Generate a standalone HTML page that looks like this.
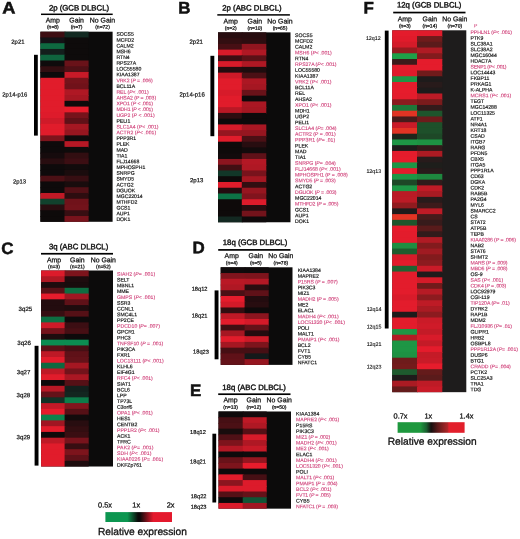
<!DOCTYPE html>
<html lang="en">
<head>
<meta charset="utf-8">
<title>Relative expression heatmaps</title>
<style>html,body{margin:0;padding:0;background:#fff;}svg{display:block;}text{white-space:pre;}</style>
</head>
<body>
<svg width="520" height="539" viewBox="0 0 520 539" font-family="'Liberation Sans', Arial, Helvetica, sans-serif" fill="#111" text-rendering="geometricPrecision">
<defs><linearGradient id="g1" x1="0" x2="1" y1="0" y2="0"><stop offset="0" stop-color="#0c9650"/><stop offset="0.33" stop-color="#0c9650"/><stop offset="0.49" stop-color="#0c0a0a"/><stop offset="0.52" stop-color="#0c0a0a"/><stop offset="0.72" stop-color="#e4192d"/><stop offset="1" stop-color="#e4192d"/></linearGradient><linearGradient id="g2" x1="0" x2="1" y1="0" y2="0"><stop offset="0" stop-color="#1e983e"/><stop offset="0.34" stop-color="#1e983e"/><stop offset="0.43" stop-color="#1a6030"/><stop offset="0.50" stop-color="#160f0f"/><stop offset="0.60" stop-color="#5c1a1a"/><stop offset="0.75" stop-color="#b02628"/><stop offset="0.765" stop-color="#e21f2b"/><stop offset="1" stop-color="#e21f2b"/></linearGradient></defs>
<rect x="0" y="0" width="520" height="539" fill="#fff"/>
<rect x="40.40" y="31.70" width="72.20" height="190.08" fill="#0c0b0b"/>
<rect x="40.40" y="31.70" width="25.10" height="6.76" fill="#3e0e13"/>
<rect x="64.50" y="31.70" width="24.10" height="6.76" fill="#132a22"/>
<rect x="40.40" y="37.46" width="25.10" height="6.76" fill="#141216"/>
<rect x="64.50" y="37.46" width="24.10" height="6.76" fill="#0e0b0b"/>
<rect x="40.40" y="43.22" width="25.10" height="6.76" fill="#0e6940"/>
<rect x="64.50" y="43.22" width="24.10" height="6.76" fill="#0e0b0b"/>
<rect x="40.40" y="48.98" width="25.10" height="6.76" fill="#131e1c"/>
<rect x="64.50" y="48.98" width="24.10" height="6.76" fill="#0e0b0b"/>
<rect x="40.40" y="54.74" width="25.10" height="6.76" fill="#0f643e"/>
<rect x="64.50" y="54.74" width="24.10" height="6.76" fill="#0e0b0b"/>
<rect x="40.40" y="60.50" width="25.10" height="6.76" fill="#0f0b0c"/>
<rect x="64.50" y="60.50" width="24.10" height="6.76" fill="#691219"/>
<rect x="40.40" y="66.26" width="25.10" height="6.76" fill="#320e11"/>
<rect x="64.50" y="66.26" width="24.10" height="6.76" fill="#501016"/>
<rect x="40.40" y="72.02" width="25.10" height="6.76" fill="#0e0a0b"/>
<rect x="64.50" y="72.02" width="24.10" height="6.76" fill="#c81a28"/>
<rect x="40.40" y="77.78" width="25.10" height="6.76" fill="#e11c2b"/>
<rect x="64.50" y="77.78" width="24.10" height="6.76" fill="#76131b"/>
<rect x="40.40" y="83.54" width="25.10" height="6.76" fill="#e11c2b"/>
<rect x="64.50" y="83.54" width="24.10" height="6.76" fill="#70121a"/>
<rect x="40.40" y="89.30" width="25.10" height="6.76" fill="#e11c2b"/>
<rect x="64.50" y="89.30" width="24.10" height="6.76" fill="#af1824"/>
<rect x="40.40" y="95.06" width="25.10" height="6.76" fill="#e11c2b"/>
<rect x="64.50" y="95.06" width="24.10" height="6.76" fill="#a51722"/>
<rect x="40.40" y="100.82" width="25.10" height="6.76" fill="#e11c2b"/>
<rect x="64.50" y="100.82" width="24.10" height="6.76" fill="#0e0b0b"/>
<rect x="40.40" y="106.58" width="25.10" height="6.76" fill="#e11c2b"/>
<rect x="64.50" y="106.58" width="24.10" height="6.76" fill="#e81c2c"/>
<rect x="40.40" y="112.34" width="25.10" height="6.76" fill="#de1b2b"/>
<rect x="64.50" y="112.34" width="24.10" height="6.76" fill="#76131b"/>
<rect x="40.40" y="118.10" width="25.10" height="6.76" fill="#cf1a29"/>
<rect x="64.50" y="118.10" width="24.10" height="6.76" fill="#5f1118"/>
<rect x="40.40" y="123.86" width="25.10" height="6.76" fill="#e11c2b"/>
<rect x="64.50" y="123.86" width="24.10" height="6.76" fill="#a51722"/>
<rect x="40.40" y="129.62" width="25.10" height="6.76" fill="#e11c2b"/>
<rect x="64.50" y="129.62" width="24.10" height="6.76" fill="#961620"/>
<rect x="40.40" y="135.38" width="25.10" height="6.76" fill="#7d141c"/>
<rect x="64.50" y="135.38" width="24.10" height="6.76" fill="#0f0b0c"/>
<rect x="40.40" y="141.14" width="25.10" height="6.76" fill="#0e0a0b"/>
<rect x="64.50" y="141.14" width="24.10" height="6.76" fill="#b61825"/>
<rect x="40.40" y="146.90" width="25.10" height="6.76" fill="#0e0a0b"/>
<rect x="64.50" y="146.90" width="24.10" height="6.76" fill="#0e0b0b"/>
<rect x="40.40" y="152.66" width="25.10" height="6.76" fill="#160b0d"/>
<rect x="64.50" y="152.66" width="24.10" height="6.76" fill="#320e11"/>
<rect x="40.40" y="158.42" width="25.10" height="6.76" fill="#280d10"/>
<rect x="64.50" y="158.42" width="24.10" height="6.76" fill="#3c0e13"/>
<rect x="40.40" y="164.18" width="25.10" height="6.76" fill="#0e0a0b"/>
<rect x="64.50" y="164.18" width="24.10" height="6.76" fill="#120b0c"/>
<rect x="40.40" y="169.94" width="25.10" height="6.76" fill="#0e0a0b"/>
<rect x="64.50" y="169.94" width="24.10" height="6.76" fill="#1a0c0d"/>
<rect x="40.40" y="175.70" width="25.10" height="6.76" fill="#4b1015"/>
<rect x="64.50" y="175.70" width="24.10" height="6.76" fill="#370e12"/>
<rect x="40.40" y="181.46" width="25.10" height="6.76" fill="#0e0a0b"/>
<rect x="64.50" y="181.46" width="24.10" height="6.76" fill="#190c0d"/>
<rect x="40.40" y="187.22" width="25.10" height="6.76" fill="#0e0a0b"/>
<rect x="64.50" y="187.22" width="24.10" height="6.76" fill="#521016"/>
<rect x="40.40" y="192.98" width="25.10" height="6.76" fill="#c01926"/>
<rect x="64.50" y="192.98" width="24.10" height="6.76" fill="#2d0d10"/>
<rect x="40.40" y="198.74" width="25.10" height="6.76" fill="#11412d"/>
<rect x="64.50" y="198.74" width="24.10" height="6.76" fill="#70121a"/>
<rect x="40.40" y="204.50" width="25.10" height="6.76" fill="#280d10"/>
<rect x="64.50" y="204.50" width="24.10" height="6.76" fill="#73131b"/>
<rect x="40.40" y="210.26" width="25.10" height="6.76" fill="#0e0a0a"/>
<rect x="64.50" y="210.26" width="24.10" height="6.76" fill="#370e12"/>
<rect x="40.40" y="216.02" width="25.10" height="5.76" fill="#0e0a0a"/>
<rect x="64.50" y="216.02" width="24.10" height="5.76" fill="#78131c"/>
<text x="116.40" y="35.84" font-size="5.15" stroke="#111" stroke-width="0.16" transform="rotate(0.03 116.40 35.84)">SOCS5</text>
<text x="116.40" y="41.63" font-size="5.15" stroke="#111" stroke-width="0.16" transform="rotate(0.03 116.40 41.63)">MCFD2</text>
<text x="116.40" y="47.42" font-size="5.15" stroke="#111" stroke-width="0.16" transform="rotate(0.03 116.40 47.42)">CALM2</text>
<text x="116.40" y="53.21" font-size="5.15" stroke="#111" stroke-width="0.16" transform="rotate(0.03 116.40 53.21)">MSH6</text>
<text x="116.40" y="59.00" font-size="5.15" stroke="#111" stroke-width="0.16" transform="rotate(0.03 116.40 59.00)">RTN4</text>
<text x="116.40" y="64.79" font-size="5.15" stroke="#111" stroke-width="0.16" transform="rotate(0.03 116.40 64.79)">RPS27A</text>
<text x="116.40" y="70.58" font-size="5.15" stroke="#111" stroke-width="0.16" transform="rotate(0.03 116.40 70.58)">LOC55580</text>
<text x="116.40" y="76.37" font-size="5.15" stroke="#111" stroke-width="0.16" transform="rotate(0.03 116.40 76.37)">KIAA1387</text>
<text x="116.40" y="82.16" font-size="5.15" textLength="36.30" lengthAdjust="spacing" fill="#d0427a" stroke="#d0427a" stroke-width="0.12" transform="rotate(0.03 116.40 82.16)">VRK2 (<tspan font-style="italic">P</tspan> = .006)</text>
<text x="116.40" y="87.95" font-size="5.15" stroke="#111" stroke-width="0.16" transform="rotate(0.03 116.40 87.95)">BCL11A</text>
<text x="116.40" y="93.74" font-size="5.15" textLength="32.20" lengthAdjust="spacing" fill="#d0427a" stroke="#d0427a" stroke-width="0.12" transform="rotate(0.03 116.40 93.74)">REL (<tspan font-style="italic">P</tspan>&lt; .001)</text>
<text x="116.40" y="99.53" font-size="5.15" textLength="39.70" lengthAdjust="spacing" fill="#d0427a" stroke="#d0427a" stroke-width="0.12" transform="rotate(0.03 116.40 99.53)">AHSA2 (<tspan font-style="italic">P</tspan> = .003)</text>
<text x="116.40" y="105.32" font-size="5.15" textLength="36.60" lengthAdjust="spacing" fill="#d0427a" stroke="#d0427a" stroke-width="0.12" transform="rotate(0.03 116.40 105.32)">XPO1 (<tspan font-style="italic">P</tspan> &lt; .001)</text>
<text x="116.40" y="111.11" font-size="5.15" textLength="36.60" lengthAdjust="spacing" fill="#d0427a" stroke="#d0427a" stroke-width="0.12" transform="rotate(0.03 116.40 111.11)">MDH1 (<tspan font-style="italic">P</tspan> &lt; .001)</text>
<text x="116.40" y="116.90" font-size="5.15" textLength="38.20" lengthAdjust="spacing" fill="#d0427a" stroke="#d0427a" stroke-width="0.12" transform="rotate(0.03 116.40 116.90)">UGP2 (<tspan font-style="italic">P</tspan> &lt; .001)</text>
<text x="116.40" y="122.69" font-size="5.15" stroke="#111" stroke-width="0.16" transform="rotate(0.03 116.40 122.69)">PELI1</text>
<text x="116.40" y="128.48" font-size="5.15" textLength="42.10" lengthAdjust="spacing" fill="#d0427a" stroke="#d0427a" stroke-width="0.12" transform="rotate(0.03 116.40 128.48)">SLC1A4 (<tspan font-style="italic">P</tspan>&lt; .001)</text>
<text x="116.40" y="134.27" font-size="5.15" textLength="39.70" lengthAdjust="spacing" fill="#d0427a" stroke="#d0427a" stroke-width="0.12" transform="rotate(0.03 116.40 134.27)">ACTR2 (<tspan font-style="italic">P</tspan>&lt; .001)</text>
<text x="116.40" y="140.06" font-size="5.15" stroke="#111" stroke-width="0.16" transform="rotate(0.03 116.40 140.06)">PPP3R1</text>
<text x="116.40" y="145.85" font-size="5.15" stroke="#111" stroke-width="0.16" transform="rotate(0.03 116.40 145.85)">PLEK</text>
<text x="116.40" y="151.64" font-size="5.15" stroke="#111" stroke-width="0.16" transform="rotate(0.03 116.40 151.64)">MAD</text>
<text x="116.40" y="157.43" font-size="5.15" stroke="#111" stroke-width="0.16" transform="rotate(0.03 116.40 157.43)">TIA1</text>
<text x="116.40" y="163.22" font-size="5.15" stroke="#111" stroke-width="0.16" transform="rotate(0.03 116.40 163.22)">FLJ14668</text>
<text x="116.40" y="169.01" font-size="5.15" stroke="#111" stroke-width="0.16" transform="rotate(0.03 116.40 169.01)">MPHOSPH1</text>
<text x="116.40" y="174.80" font-size="5.15" stroke="#111" stroke-width="0.16" transform="rotate(0.03 116.40 174.80)">SNRPG</text>
<text x="116.40" y="180.59" font-size="5.15" stroke="#111" stroke-width="0.16" transform="rotate(0.03 116.40 180.59)">SMYD5</text>
<text x="116.40" y="186.38" font-size="5.15" stroke="#111" stroke-width="0.16" transform="rotate(0.03 116.40 186.38)">ACTG2</text>
<text x="116.40" y="192.17" font-size="5.15" stroke="#111" stroke-width="0.16" transform="rotate(0.03 116.40 192.17)">DGUOK</text>
<text x="116.40" y="197.96" font-size="5.15" stroke="#111" stroke-width="0.16" transform="rotate(0.03 116.40 197.96)">MGC22014</text>
<text x="116.40" y="203.75" font-size="5.15" stroke="#111" stroke-width="0.16" transform="rotate(0.03 116.40 203.75)">MTHFD2</text>
<text x="116.40" y="209.54" font-size="5.15" stroke="#111" stroke-width="0.16" transform="rotate(0.03 116.40 209.54)">GCS1</text>
<text x="116.40" y="215.33" font-size="5.15" stroke="#111" stroke-width="0.16" transform="rotate(0.03 116.40 215.33)">AUP1</text>
<text x="116.40" y="221.12" font-size="5.15" stroke="#111" stroke-width="0.16" transform="rotate(0.03 116.40 221.12)">DOK1</text>
<text x="79.00" y="10.50" font-size="7.80" text-anchor="middle" stroke="#111" stroke-width="0.4" transform="rotate(0.03 79.00 10.50)">2p (GCB DLBCL)</text>
<rect x="41.00" y="13.55" width="71.70" height="1.50" fill="#000"/>
<text x="52.85" y="22.50" font-size="6.90" text-anchor="middle" stroke="#111" stroke-width="0.25" transform="rotate(0.03 52.85 22.50)">Amp</text>
<text x="52.85" y="28.60" font-size="5.00" text-anchor="middle" stroke="#111" stroke-width="0.25" transform="rotate(0.03 52.85 28.60)">(n=8)</text>
<text x="76.60" y="22.50" font-size="6.90" text-anchor="middle" stroke="#111" stroke-width="0.25" transform="rotate(0.03 76.60 22.50)">Gain</text>
<text x="76.60" y="28.60" font-size="5.00" text-anchor="middle" stroke="#111" stroke-width="0.25" transform="rotate(0.03 76.60 28.60)">(n=7)</text>
<text x="102.50" y="22.50" font-size="6.90" text-anchor="middle" stroke="#111" stroke-width="0.25" transform="rotate(0.03 102.50 22.50)">No Gain</text>
<text x="102.50" y="28.60" font-size="5.00" text-anchor="middle" stroke="#111" stroke-width="0.25" transform="rotate(0.03 102.50 28.60)">(n=72)</text>
<rect x="34.00" y="54.80" width="3.80" height="80.80" fill="#000"/>
<text x="17.90" y="43.81" font-size="5.90" text-anchor="middle" stroke="#111" stroke-width="0.2" transform="rotate(0.03 17.90 43.81)">2p21</text>
<text x="14.80" y="96.41" font-size="5.90" text-anchor="middle" stroke="#111" stroke-width="0.2" transform="rotate(0.03 14.80 96.41)">2p14-p16</text>
<text x="19.50" y="183.51" font-size="5.90" text-anchor="middle" stroke="#111" stroke-width="0.2" transform="rotate(0.03 19.50 183.51)">2p13</text>
<text font-size="16.60" font-weight="bold" stroke="#111" stroke-width="0.5" transform="translate(2.30 13.50) rotate(0.03) scale(1.10 1)">A</text>
<rect x="218.00" y="32.35" width="72.50" height="189.91" fill="#0c0b0b"/>
<rect x="218.00" y="32.35" width="24.80" height="6.75" fill="#280d10"/>
<rect x="241.80" y="32.35" width="24.50" height="6.75" fill="#280d10"/>
<rect x="218.00" y="38.11" width="24.80" height="6.75" fill="#320e11"/>
<rect x="241.80" y="38.11" width="24.50" height="6.75" fill="#2d0d10"/>
<rect x="218.00" y="43.86" width="24.80" height="6.75" fill="#460f14"/>
<rect x="241.80" y="43.86" width="24.50" height="6.75" fill="#91151f"/>
<rect x="218.00" y="49.62" width="24.80" height="6.75" fill="#d71b2a"/>
<rect x="241.80" y="49.62" width="24.50" height="6.75" fill="#af1824"/>
<rect x="218.00" y="55.37" width="24.80" height="6.75" fill="#3c0e13"/>
<rect x="241.80" y="55.37" width="24.50" height="6.75" fill="#5a1117"/>
<rect x="218.00" y="61.12" width="24.80" height="6.75" fill="#d71b2a"/>
<rect x="241.80" y="61.12" width="24.50" height="6.75" fill="#af1824"/>
<rect x="218.00" y="66.88" width="24.80" height="6.75" fill="#230c0f"/>
<rect x="241.80" y="66.88" width="24.50" height="6.75" fill="#1e0c0e"/>
<rect x="218.00" y="72.63" width="24.80" height="6.75" fill="#cd1a28"/>
<rect x="241.80" y="72.63" width="24.50" height="6.75" fill="#4b1015"/>
<rect x="218.00" y="78.39" width="24.80" height="6.75" fill="#e11c2b"/>
<rect x="241.80" y="78.39" width="24.50" height="6.75" fill="#ac1723"/>
<rect x="218.00" y="84.15" width="24.80" height="6.75" fill="#e11c2b"/>
<rect x="241.80" y="84.15" width="24.50" height="6.75" fill="#a51722"/>
<rect x="218.00" y="89.90" width="24.80" height="6.75" fill="#d71b2a"/>
<rect x="241.80" y="89.90" width="24.50" height="6.75" fill="#691219"/>
<rect x="218.00" y="95.66" width="24.80" height="6.75" fill="#e11c2b"/>
<rect x="241.80" y="95.66" width="24.50" height="6.75" fill="#0e0a0b"/>
<rect x="218.00" y="101.41" width="24.80" height="6.75" fill="#e11c2b"/>
<rect x="241.80" y="101.41" width="24.50" height="6.75" fill="#aa1723"/>
<rect x="218.00" y="107.16" width="24.80" height="6.75" fill="#b91825"/>
<rect x="241.80" y="107.16" width="24.50" height="6.75" fill="#a51722"/>
<rect x="218.00" y="112.92" width="24.80" height="6.75" fill="#2d0d10"/>
<rect x="241.80" y="112.92" width="24.50" height="6.75" fill="#0e0a0b"/>
<rect x="218.00" y="118.68" width="24.80" height="6.75" fill="#0e0a0b"/>
<rect x="241.80" y="118.68" width="24.50" height="6.75" fill="#0e0a0b"/>
<rect x="218.00" y="124.43" width="24.80" height="6.75" fill="#d71b2a"/>
<rect x="241.80" y="124.43" width="24.50" height="6.75" fill="#aa1723"/>
<rect x="218.00" y="130.19" width="24.80" height="6.75" fill="#961620"/>
<rect x="241.80" y="130.19" width="24.50" height="6.75" fill="#961620"/>
<rect x="218.00" y="135.94" width="24.80" height="6.75" fill="#e11c2b"/>
<rect x="241.80" y="135.94" width="24.50" height="6.75" fill="#4b1015"/>
<rect x="218.00" y="141.69" width="24.80" height="6.75" fill="#0e0a0a"/>
<rect x="241.80" y="141.69" width="24.50" height="6.75" fill="#280d10"/>
<rect x="218.00" y="147.45" width="24.80" height="6.75" fill="#0e0a0a"/>
<rect x="241.80" y="147.45" width="24.50" height="6.75" fill="#120b0c"/>
<rect x="218.00" y="153.21" width="24.80" height="6.75" fill="#120b0c"/>
<rect x="241.80" y="153.21" width="24.50" height="6.75" fill="#5f1118"/>
<rect x="218.00" y="158.96" width="24.80" height="6.75" fill="#8c151f"/>
<rect x="241.80" y="158.96" width="24.50" height="6.75" fill="#b41825"/>
<rect x="218.00" y="164.72" width="24.80" height="6.75" fill="#410f13"/>
<rect x="241.80" y="164.72" width="24.50" height="6.75" fill="#af1824"/>
<rect x="218.00" y="170.47" width="24.80" height="6.75" fill="#123728"/>
<rect x="241.80" y="170.47" width="24.50" height="6.75" fill="#78131c"/>
<rect x="218.00" y="176.22" width="24.80" height="6.75" fill="#0e0a0a"/>
<rect x="241.80" y="176.22" width="24.50" height="6.75" fill="#a51722"/>
<rect x="218.00" y="181.98" width="24.80" height="6.75" fill="#e11c2b"/>
<rect x="241.80" y="181.98" width="24.50" height="6.75" fill="#320e11"/>
<rect x="218.00" y="187.73" width="24.80" height="6.75" fill="#230c0f"/>
<rect x="241.80" y="187.73" width="24.50" height="6.75" fill="#961620"/>
<rect x="218.00" y="193.49" width="24.80" height="6.75" fill="#0d7345"/>
<rect x="241.80" y="193.49" width="24.50" height="6.75" fill="#80141d"/>
<rect x="218.00" y="199.25" width="24.80" height="6.75" fill="#0e0a0a"/>
<rect x="241.80" y="199.25" width="24.50" height="6.75" fill="#de1b2b"/>
<rect x="218.00" y="205.00" width="24.80" height="6.75" fill="#0e0a0a"/>
<rect x="241.80" y="205.00" width="24.50" height="6.75" fill="#280d10"/>
<rect x="218.00" y="210.75" width="24.80" height="6.75" fill="#0e0a0a"/>
<rect x="241.80" y="210.75" width="24.50" height="6.75" fill="#73131b"/>
<rect x="218.00" y="216.51" width="24.80" height="5.75" fill="#132821"/>
<rect x="241.80" y="216.51" width="24.50" height="5.75" fill="#0e0a0b"/>
<text x="295.10" y="36.94" font-size="5.15" stroke="#111" stroke-width="0.16" transform="rotate(0.03 295.10 36.94)">SOCS5</text>
<text x="295.10" y="42.76" font-size="5.15" stroke="#111" stroke-width="0.16" transform="rotate(0.03 295.10 42.76)">MCFD2</text>
<text x="295.10" y="48.57" font-size="5.15" stroke="#111" stroke-width="0.16" transform="rotate(0.03 295.10 48.57)">CALM2</text>
<text x="295.10" y="54.39" font-size="5.15" textLength="36.70" lengthAdjust="spacing" fill="#d0427a" stroke="#d0427a" stroke-width="0.12" transform="rotate(0.03 295.10 54.39)">MSH6 (<tspan font-style="italic">P</tspan>&lt; .001)</text>
<text x="295.10" y="60.20" font-size="5.15" stroke="#111" stroke-width="0.16" transform="rotate(0.03 295.10 60.20)">RTN4</text>
<text x="295.10" y="66.02" font-size="5.15" textLength="41.40" lengthAdjust="spacing" fill="#d0427a" stroke="#d0427a" stroke-width="0.12" transform="rotate(0.03 295.10 66.02)">RPS27A (<tspan font-style="italic">P</tspan>&lt; .001)</text>
<text x="295.10" y="71.83" font-size="5.15" stroke="#111" stroke-width="0.16" transform="rotate(0.03 295.10 71.83)">LOC55580</text>
<text x="295.10" y="77.65" font-size="5.15" stroke="#111" stroke-width="0.16" transform="rotate(0.03 295.10 77.65)">KIAA1387</text>
<text x="295.10" y="83.46" font-size="5.15" textLength="36.40" lengthAdjust="spacing" fill="#d0427a" stroke="#d0427a" stroke-width="0.12" transform="rotate(0.03 295.10 83.46)">VRK2 (<tspan font-style="italic">P</tspan>&lt; .001)</text>
<text x="295.10" y="89.28" font-size="5.15" stroke="#111" stroke-width="0.16" transform="rotate(0.03 295.10 89.28)">BCL11A</text>
<text x="295.10" y="95.09" font-size="5.15" stroke="#111" stroke-width="0.16" transform="rotate(0.03 295.10 95.09)">REL</text>
<text x="295.10" y="100.91" font-size="5.15" stroke="#111" stroke-width="0.16" transform="rotate(0.03 295.10 100.91)">AHSA2</text>
<text x="295.10" y="106.72" font-size="5.15" textLength="36.40" lengthAdjust="spacing" fill="#d0427a" stroke="#d0427a" stroke-width="0.12" transform="rotate(0.03 295.10 106.72)">XPO1 (<tspan font-style="italic">P</tspan>&lt; .001)</text>
<text x="295.10" y="112.54" font-size="5.15" stroke="#111" stroke-width="0.16" transform="rotate(0.03 295.10 112.54)">MDH1</text>
<text x="295.10" y="118.35" font-size="5.15" stroke="#111" stroke-width="0.16" transform="rotate(0.03 295.10 118.35)">UGP2</text>
<text x="295.10" y="124.17" font-size="5.15" stroke="#111" stroke-width="0.16" transform="rotate(0.03 295.10 124.17)">PELI1</text>
<text x="295.10" y="129.98" font-size="5.15" textLength="41.40" lengthAdjust="spacing" fill="#d0427a" stroke="#d0427a" stroke-width="0.12" transform="rotate(0.03 295.10 129.98)">SLC1A4 (<tspan font-style="italic">P</tspan>= .004)</text>
<text x="295.10" y="135.80" font-size="5.15" textLength="40.50" lengthAdjust="spacing" fill="#d0427a" stroke="#d0427a" stroke-width="0.12" transform="rotate(0.03 295.10 135.80)">ACTR2 (<tspan font-style="italic">P</tspan> = .001)</text>
<text x="295.10" y="141.61" font-size="5.15" textLength="40.10" lengthAdjust="spacing" fill="#d0427a" stroke="#d0427a" stroke-width="0.12" transform="rotate(0.03 295.10 141.61)">PPP3R1 (<tspan font-style="italic">P</tspan>= .01)</text>
<text x="295.10" y="147.43" font-size="5.15" stroke="#111" stroke-width="0.16" transform="rotate(0.03 295.10 147.43)">PLEK</text>
<text x="295.10" y="153.24" font-size="5.15" stroke="#111" stroke-width="0.16" transform="rotate(0.03 295.10 153.24)">MAD</text>
<text x="295.10" y="159.06" font-size="5.15" stroke="#111" stroke-width="0.16" transform="rotate(0.03 295.10 159.06)">TIA1</text>
<text x="295.10" y="164.87" font-size="5.15" textLength="40.70" lengthAdjust="spacing" fill="#d0427a" stroke="#d0427a" stroke-width="0.12" transform="rotate(0.03 295.10 164.87)">SNRPG (<tspan font-style="italic">P</tspan>= .004)</text>
<text x="295.10" y="170.69" font-size="5.15" textLength="45.50" lengthAdjust="spacing" fill="#d0427a" stroke="#d0427a" stroke-width="0.12" transform="rotate(0.03 295.10 170.69)">FLJ14668 (<tspan font-style="italic">P</tspan>&lt; .001)</text>
<text x="295.10" y="176.50" font-size="5.15" textLength="52.60" lengthAdjust="spacing" fill="#d0427a" stroke="#d0427a" stroke-width="0.12" transform="rotate(0.03 295.10 176.50)">MPHOSPH1 (<tspan font-style="italic">P</tspan> = .008)</text>
<text x="295.10" y="182.32" font-size="5.15" textLength="40.50" lengthAdjust="spacing" fill="#d0427a" stroke="#d0427a" stroke-width="0.12" transform="rotate(0.03 295.10 182.32)">SMYD5 (<tspan font-style="italic">P</tspan> = .003)</text>
<text x="295.10" y="188.13" font-size="5.15" stroke="#111" stroke-width="0.16" transform="rotate(0.03 295.10 188.13)">ACTG2</text>
<text x="295.10" y="193.95" font-size="5.15" textLength="41.40" lengthAdjust="spacing" fill="#d0427a" stroke="#d0427a" stroke-width="0.12" transform="rotate(0.03 295.10 193.95)">DGUOK (<tspan font-style="italic">P</tspan> = .003)</text>
<text x="295.10" y="199.76" font-size="5.15" stroke="#111" stroke-width="0.16" transform="rotate(0.03 295.10 199.76)">MGC22014</text>
<text x="295.10" y="205.58" font-size="5.15" textLength="43.40" lengthAdjust="spacing" fill="#d0427a" stroke="#d0427a" stroke-width="0.12" transform="rotate(0.03 295.10 205.58)">MTHFD2 (<tspan font-style="italic">P</tspan> = .005)</text>
<text x="295.10" y="211.39" font-size="5.15" stroke="#111" stroke-width="0.16" transform="rotate(0.03 295.10 211.39)">GCS1</text>
<text x="295.10" y="217.21" font-size="5.15" stroke="#111" stroke-width="0.16" transform="rotate(0.03 295.10 217.21)">AUP1</text>
<text x="295.10" y="223.02" font-size="5.15" stroke="#111" stroke-width="0.16" transform="rotate(0.03 295.10 223.02)">DOK1</text>
<text x="251.90" y="10.50" font-size="7.80" text-anchor="middle" stroke="#111" stroke-width="0.4" transform="rotate(0.03 251.90 10.50)">2p (ABC DLBCL)</text>
<rect x="217.30" y="14.15" width="72.60" height="1.50" fill="#000"/>
<text x="230.70" y="23.60" font-size="6.90" text-anchor="middle" stroke="#111" stroke-width="0.25" transform="rotate(0.03 230.70 23.60)">Amp</text>
<text x="230.70" y="29.80" font-size="5.00" text-anchor="middle" stroke="#111" stroke-width="0.25" transform="rotate(0.03 230.70 29.80)">(n=2)</text>
<text x="254.90" y="23.60" font-size="6.90" text-anchor="middle" stroke="#111" stroke-width="0.25" transform="rotate(0.03 254.90 23.60)">Gain</text>
<text x="254.90" y="29.80" font-size="5.00" text-anchor="middle" stroke="#111" stroke-width="0.25" transform="rotate(0.03 254.90 29.80)">(n=10)</text>
<text x="280.00" y="23.60" font-size="6.90" text-anchor="middle" stroke="#111" stroke-width="0.25" transform="rotate(0.03 280.00 23.60)">No Gain</text>
<text x="280.00" y="29.80" font-size="5.00" text-anchor="middle" stroke="#111" stroke-width="0.25" transform="rotate(0.03 280.00 29.80)">(n=65)</text>
<rect x="210.40" y="55.80" width="3.90" height="80.40" fill="#000"/>
<text x="196.20" y="43.85" font-size="6.00" text-anchor="middle" stroke="#111" stroke-width="0.2" transform="rotate(0.03 196.20 43.85)">2p21</text>
<text x="192.10" y="96.45" font-size="6.00" text-anchor="middle" stroke="#111" stroke-width="0.2" transform="rotate(0.03 192.10 96.45)">2p14-p16</text>
<text x="196.70" y="182.35" font-size="6.00" text-anchor="middle" stroke="#111" stroke-width="0.2" transform="rotate(0.03 196.70 182.35)">2p13</text>
<text font-size="16.60" font-weight="bold" stroke="#111" stroke-width="0.5" transform="translate(178.30 13.50) rotate(0.03) scale(1.02 1)">B</text>
<rect x="41.10" y="270.50" width="71.90" height="196.01" fill="#0c0b0b"/>
<rect x="41.10" y="270.50" width="24.50" height="6.76" fill="#dc1b2b"/>
<rect x="64.60" y="270.50" width="24.10" height="6.76" fill="#7d141c"/>
<rect x="41.10" y="276.26" width="24.50" height="6.76" fill="#af1824"/>
<rect x="64.60" y="276.26" width="24.10" height="6.76" fill="#1e0c0e"/>
<rect x="41.10" y="282.03" width="24.50" height="6.76" fill="#1e0c0e"/>
<rect x="64.60" y="282.03" width="24.10" height="6.76" fill="#190c0d"/>
<rect x="41.10" y="287.80" width="24.50" height="6.76" fill="#5a1117"/>
<rect x="64.60" y="287.80" width="24.10" height="6.76" fill="#0e6e42"/>
<rect x="41.10" y="293.56" width="24.50" height="6.76" fill="#e61c2c"/>
<rect x="64.60" y="293.56" width="24.10" height="6.76" fill="#a01622"/>
<rect x="41.10" y="299.32" width="24.50" height="6.76" fill="#230c0f"/>
<rect x="64.60" y="299.32" width="24.10" height="6.76" fill="#5f1118"/>
<rect x="41.10" y="305.09" width="24.50" height="6.76" fill="#230c0f"/>
<rect x="64.60" y="305.09" width="24.10" height="6.76" fill="#1e0c0e"/>
<rect x="41.10" y="310.86" width="24.50" height="6.76" fill="#370e12"/>
<rect x="64.60" y="310.86" width="24.10" height="6.76" fill="#551016"/>
<rect x="41.10" y="316.62" width="24.50" height="6.76" fill="#0e6e42"/>
<rect x="64.60" y="316.62" width="24.10" height="6.76" fill="#0e0a0b"/>
<rect x="41.10" y="322.38" width="24.50" height="6.76" fill="#cd1a28"/>
<rect x="64.60" y="322.38" width="24.10" height="6.76" fill="#3c0e13"/>
<rect x="41.10" y="328.15" width="24.50" height="6.76" fill="#73131b"/>
<rect x="64.60" y="328.15" width="24.10" height="6.76" fill="#460f14"/>
<rect x="41.10" y="333.92" width="24.50" height="6.76" fill="#1e0c0e"/>
<rect x="64.60" y="333.92" width="24.10" height="6.76" fill="#0e0a0b"/>
<rect x="41.10" y="339.68" width="24.50" height="6.76" fill="#0c8c51"/>
<rect x="64.60" y="339.68" width="24.10" height="6.76" fill="#0c8c51"/>
<rect x="41.10" y="345.44" width="24.50" height="6.76" fill="#5a1117"/>
<rect x="64.60" y="345.44" width="24.10" height="6.76" fill="#460f14"/>
<rect x="41.10" y="351.21" width="24.50" height="6.76" fill="#be1926"/>
<rect x="64.60" y="351.21" width="24.10" height="6.76" fill="#5f1118"/>
<rect x="41.10" y="356.98" width="24.50" height="6.76" fill="#e11c2b"/>
<rect x="64.60" y="356.98" width="24.10" height="6.76" fill="#641219"/>
<rect x="41.10" y="362.74" width="24.50" height="6.76" fill="#0e6940"/>
<rect x="64.60" y="362.74" width="24.10" height="6.76" fill="#a51722"/>
<rect x="41.10" y="368.50" width="24.50" height="6.76" fill="#be1926"/>
<rect x="64.60" y="368.50" width="24.10" height="6.76" fill="#73131b"/>
<rect x="41.10" y="374.27" width="24.50" height="6.76" fill="#e11c2b"/>
<rect x="64.60" y="374.27" width="24.10" height="6.76" fill="#aa1723"/>
<rect x="41.10" y="380.03" width="24.50" height="6.76" fill="#0e0a0b"/>
<rect x="64.60" y="380.03" width="24.10" height="6.76" fill="#551016"/>
<rect x="41.10" y="385.80" width="24.50" height="6.76" fill="#b91825"/>
<rect x="64.60" y="385.80" width="24.10" height="6.76" fill="#13201d"/>
<rect x="41.10" y="391.56" width="24.50" height="6.76" fill="#641219"/>
<rect x="64.60" y="391.56" width="24.10" height="6.76" fill="#132620"/>
<rect x="41.10" y="397.33" width="24.50" height="6.76" fill="#123226"/>
<rect x="64.60" y="397.33" width="24.10" height="6.76" fill="#0d7d4a"/>
<rect x="41.10" y="403.10" width="24.50" height="6.76" fill="#c31927"/>
<rect x="64.60" y="403.10" width="24.10" height="6.76" fill="#82141d"/>
<rect x="41.10" y="408.86" width="24.50" height="6.76" fill="#e61c2c"/>
<rect x="64.60" y="408.86" width="24.10" height="6.76" fill="#551016"/>
<rect x="41.10" y="414.62" width="24.50" height="6.76" fill="#0c824c"/>
<rect x="64.60" y="414.62" width="24.10" height="6.76" fill="#120b0c"/>
<rect x="41.10" y="420.39" width="24.50" height="6.76" fill="#a01622"/>
<rect x="64.60" y="420.39" width="24.10" height="6.76" fill="#280d10"/>
<rect x="41.10" y="426.15" width="24.50" height="6.76" fill="#e11c2b"/>
<rect x="64.60" y="426.15" width="24.10" height="6.76" fill="#320e11"/>
<rect x="41.10" y="431.92" width="24.50" height="6.76" fill="#0e0a0a"/>
<rect x="64.60" y="431.92" width="24.10" height="6.76" fill="#3a0e12"/>
<rect x="41.10" y="437.69" width="24.50" height="6.76" fill="#be1926"/>
<rect x="64.60" y="437.69" width="24.10" height="6.76" fill="#78131c"/>
<rect x="41.10" y="443.45" width="24.50" height="6.76" fill="#e11c2b"/>
<rect x="64.60" y="443.45" width="24.10" height="6.76" fill="#370e12"/>
<rect x="41.10" y="449.22" width="24.50" height="6.76" fill="#e11c2b"/>
<rect x="64.60" y="449.22" width="24.10" height="6.76" fill="#7d141c"/>
<rect x="41.10" y="454.98" width="24.50" height="6.76" fill="#e11c2b"/>
<rect x="64.60" y="454.98" width="24.10" height="6.76" fill="#5f1118"/>
<rect x="41.10" y="460.75" width="24.50" height="5.76" fill="#e11c2b"/>
<rect x="64.60" y="460.75" width="24.10" height="5.76" fill="#1e0c0e"/>
<text x="117.00" y="275.74" font-size="5.15" textLength="38.10" lengthAdjust="spacing" fill="#d0427a" stroke="#d0427a" stroke-width="0.12" transform="rotate(0.03 117.00 275.74)">SIAH2 (<tspan font-style="italic">P</tspan>= .001)</text>
<text x="117.00" y="281.53" font-size="5.15" stroke="#111" stroke-width="0.16" transform="rotate(0.03 117.00 281.53)">SELT</text>
<text x="117.00" y="287.31" font-size="5.15" stroke="#111" stroke-width="0.16" transform="rotate(0.03 117.00 287.31)">MBNL1</text>
<text x="117.00" y="293.10" font-size="5.15" stroke="#111" stroke-width="0.16" transform="rotate(0.03 117.00 293.10)">MME</text>
<text x="117.00" y="298.88" font-size="5.15" textLength="38.10" lengthAdjust="spacing" fill="#d0427a" stroke="#d0427a" stroke-width="0.12" transform="rotate(0.03 117.00 298.88)">GMPS (<tspan font-style="italic">P</tspan>&lt; .001)</text>
<text x="117.00" y="304.67" font-size="5.15" stroke="#111" stroke-width="0.16" transform="rotate(0.03 117.00 304.67)">SSR3</text>
<text x="117.00" y="310.45" font-size="5.15" stroke="#111" stroke-width="0.16" transform="rotate(0.03 117.00 310.45)">CCNL1</text>
<text x="117.00" y="316.24" font-size="5.15" stroke="#111" stroke-width="0.16" transform="rotate(0.03 117.00 316.24)">SMC4L1</text>
<text x="117.00" y="322.02" font-size="5.15" stroke="#111" stroke-width="0.16" transform="rotate(0.03 117.00 322.02)">PP2CE</text>
<text x="117.00" y="327.81" font-size="5.15" textLength="42.90" lengthAdjust="spacing" fill="#d0427a" stroke="#d0427a" stroke-width="0.12" transform="rotate(0.03 117.00 327.81)">PDCD10 (<tspan font-style="italic">P</tspan>= .007)</text>
<text x="117.00" y="333.59" font-size="5.15" stroke="#111" stroke-width="0.16" transform="rotate(0.03 117.00 333.59)">GPCR1</text>
<text x="117.00" y="339.38" font-size="5.15" stroke="#111" stroke-width="0.16" transform="rotate(0.03 117.00 339.38)">PHC3</text>
<text x="117.00" y="345.16" font-size="5.15" textLength="46.20" lengthAdjust="spacing" fill="#d0427a" stroke="#d0427a" stroke-width="0.12" transform="rotate(0.03 117.00 345.16)">TNFSF10 (<tspan font-style="italic">P</tspan> = .001)</text>
<text x="117.00" y="350.95" font-size="5.15" stroke="#111" stroke-width="0.16" transform="rotate(0.03 117.00 350.95)">PIK3CA</text>
<text x="117.00" y="356.73" font-size="5.15" stroke="#111" stroke-width="0.16" transform="rotate(0.03 117.00 356.73)">FXR1</text>
<text x="117.00" y="362.52" font-size="5.15" textLength="46.60" lengthAdjust="spacing" fill="#d0427a" stroke="#d0427a" stroke-width="0.12" transform="rotate(0.03 117.00 362.52)">LOC13111 (<tspan font-style="italic">P</tspan>&lt; .001)</text>
<text x="117.00" y="368.30" font-size="5.15" stroke="#111" stroke-width="0.16" transform="rotate(0.03 117.00 368.30)">KLHL6</text>
<text x="117.00" y="374.09" font-size="5.15" stroke="#111" stroke-width="0.16" transform="rotate(0.03 117.00 374.09)">EIF4G1</text>
<text x="117.00" y="379.87" font-size="5.15" textLength="35.80" lengthAdjust="spacing" fill="#d0427a" stroke="#d0427a" stroke-width="0.12" transform="rotate(0.03 117.00 379.87)">RFC4 (<tspan font-style="italic">P</tspan>&lt; .001)</text>
<text x="117.00" y="385.66" font-size="5.15" stroke="#111" stroke-width="0.16" transform="rotate(0.03 117.00 385.66)">SIAT1</text>
<text x="117.00" y="391.44" font-size="5.15" stroke="#111" stroke-width="0.16" transform="rotate(0.03 117.00 391.44)">BCL6</text>
<text x="117.00" y="397.23" font-size="5.15" stroke="#111" stroke-width="0.16" transform="rotate(0.03 117.00 397.23)">LPP</text>
<text x="117.00" y="403.01" font-size="5.15" stroke="#111" stroke-width="0.16" transform="rotate(0.03 117.00 403.01)">TP73L</text>
<text x="117.00" y="408.80" font-size="5.15" stroke="#111" stroke-width="0.16" transform="rotate(0.03 117.00 408.80)">C3orf6</text>
<text x="117.00" y="414.58" font-size="5.15" textLength="35.80" lengthAdjust="spacing" fill="#d0427a" stroke="#d0427a" stroke-width="0.12" transform="rotate(0.03 117.00 414.58)">OPA1 (<tspan font-style="italic">P</tspan>&lt; .001)</text>
<text x="117.00" y="420.37" font-size="5.15" stroke="#111" stroke-width="0.16" transform="rotate(0.03 117.00 420.37)">HES1</text>
<text x="117.00" y="426.15" font-size="5.15" stroke="#111" stroke-width="0.16" transform="rotate(0.03 117.00 426.15)">CENTB2</text>
<text x="117.00" y="431.94" font-size="5.15" textLength="42.50" lengthAdjust="spacing" fill="#d0427a" stroke="#d0427a" stroke-width="0.12" transform="rotate(0.03 117.00 431.94)">PPP1R2 (<tspan font-style="italic">P</tspan>&lt; .001)</text>
<text x="117.00" y="437.72" font-size="5.15" stroke="#111" stroke-width="0.16" transform="rotate(0.03 117.00 437.72)">ACK1</text>
<text x="117.00" y="443.51" font-size="5.15" stroke="#111" stroke-width="0.16" transform="rotate(0.03 117.00 443.51)">TFRC</text>
<text x="117.00" y="449.29" font-size="5.15" textLength="36.50" lengthAdjust="spacing" fill="#d0427a" stroke="#d0427a" stroke-width="0.12" transform="rotate(0.03 117.00 449.29)">PAK2 (<tspan font-style="italic">P</tspan>= .001)</text>
<text x="117.00" y="455.08" font-size="5.15" textLength="34.40" lengthAdjust="spacing" fill="#d0427a" stroke="#d0427a" stroke-width="0.12" transform="rotate(0.03 117.00 455.08)">SDH (<tspan font-style="italic">P</tspan>&lt; .001)</text>
<text x="117.00" y="460.86" font-size="5.15" textLength="46.20" lengthAdjust="spacing" fill="#d0427a" stroke="#d0427a" stroke-width="0.12" transform="rotate(0.03 117.00 460.86)">KIAA0226 (<tspan font-style="italic">P</tspan>= .001)</text>
<text x="117.00" y="466.65" font-size="5.15" stroke="#111" stroke-width="0.16" transform="rotate(0.03 117.00 466.65)">DKFZp761</text>
<text x="78.60" y="249.30" font-size="7.80" text-anchor="middle" stroke="#111" stroke-width="0.4" transform="rotate(0.03 78.60 249.30)">3q (ABC DLBCL)</text>
<rect x="41.00" y="252.90" width="72.00" height="1.70" fill="#000"/>
<text x="54.00" y="262.30" font-size="6.90" text-anchor="middle" stroke="#111" stroke-width="0.25" transform="rotate(0.03 54.00 262.30)">Amp</text>
<text x="54.00" y="268.30" font-size="5.00" text-anchor="middle" stroke="#111" stroke-width="0.25" transform="rotate(0.03 54.00 268.30)">(n=3)</text>
<text x="77.40" y="262.30" font-size="6.90" text-anchor="middle" stroke="#111" stroke-width="0.25" transform="rotate(0.03 77.40 262.30)">Gain</text>
<text x="77.40" y="268.30" font-size="5.00" text-anchor="middle" stroke="#111" stroke-width="0.25" transform="rotate(0.03 77.40 268.30)">(n=21)</text>
<text x="103.30" y="262.30" font-size="6.90" text-anchor="middle" stroke="#111" stroke-width="0.25" transform="rotate(0.03 103.30 262.30)">No Gain</text>
<text x="103.30" y="268.30" font-size="5.00" text-anchor="middle" stroke="#111" stroke-width="0.25" transform="rotate(0.03 103.30 268.30)">(n=52)</text>
<rect x="34.60" y="345.80" width="3.90" height="119.80" fill="#000"/>
<text x="25.40" y="310.92" font-size="6.20" text-anchor="middle" stroke="#111" stroke-width="0.2" transform="rotate(0.03 25.40 310.92)">3q25</text>
<text x="24.10" y="344.92" font-size="6.20" text-anchor="middle" stroke="#111" stroke-width="0.2" transform="rotate(0.03 24.10 344.92)">3q26</text>
<text x="23.60" y="374.22" font-size="6.20" text-anchor="middle" stroke="#111" stroke-width="0.2" transform="rotate(0.03 23.60 374.22)">3q27</text>
<text x="23.40" y="397.22" font-size="6.20" text-anchor="middle" stroke="#111" stroke-width="0.2" transform="rotate(0.03 23.40 397.22)">3q28</text>
<text x="23.40" y="439.22" font-size="6.20" text-anchor="middle" stroke="#111" stroke-width="0.2" transform="rotate(0.03 23.40 439.22)">3q29</text>
<text font-size="16.60" font-weight="bold" stroke="#111" stroke-width="0.5" transform="translate(1.30 254.10) rotate(0.03) scale(1.02 1)">C</text>
<rect x="220.70" y="267.30" width="71.80" height="97.58" fill="#0c0b0b"/>
<rect x="220.70" y="267.30" width="24.90" height="6.74" fill="#0f0b0c"/>
<rect x="244.60" y="267.30" width="24.10" height="6.74" fill="#0e0a0b"/>
<rect x="220.70" y="273.04" width="24.90" height="6.74" fill="#80141d"/>
<rect x="244.60" y="273.04" width="24.10" height="6.74" fill="#7d141c"/>
<rect x="220.70" y="278.78" width="24.90" height="6.74" fill="#b91825"/>
<rect x="244.60" y="278.78" width="24.10" height="6.74" fill="#b41825"/>
<rect x="220.70" y="284.52" width="24.90" height="6.74" fill="#af1824"/>
<rect x="244.60" y="284.52" width="24.10" height="6.74" fill="#280d10"/>
<rect x="220.70" y="290.26" width="24.90" height="6.74" fill="#4b1015"/>
<rect x="244.60" y="290.26" width="24.10" height="6.74" fill="#5f1118"/>
<rect x="220.70" y="296.00" width="24.90" height="6.74" fill="#e61c2c"/>
<rect x="244.60" y="296.00" width="24.10" height="6.74" fill="#230c0f"/>
<rect x="220.70" y="301.74" width="24.90" height="6.74" fill="#d21a29"/>
<rect x="244.60" y="301.74" width="24.10" height="6.74" fill="#280d10"/>
<rect x="220.70" y="307.48" width="24.90" height="6.74" fill="#320e11"/>
<rect x="244.60" y="307.48" width="24.10" height="6.74" fill="#0e0a0b"/>
<rect x="220.70" y="313.22" width="24.90" height="6.74" fill="#be1926"/>
<rect x="244.60" y="313.22" width="24.10" height="6.74" fill="#8c151f"/>
<rect x="220.70" y="318.96" width="24.90" height="6.74" fill="#e41c2c"/>
<rect x="244.60" y="318.96" width="24.10" height="6.74" fill="#d41a29"/>
<rect x="220.70" y="324.70" width="24.90" height="6.74" fill="#410f13"/>
<rect x="244.60" y="324.70" width="24.10" height="6.74" fill="#641219"/>
<rect x="220.70" y="330.44" width="24.90" height="6.74" fill="#a51722"/>
<rect x="244.60" y="330.44" width="24.10" height="6.74" fill="#230c0f"/>
<rect x="220.70" y="336.18" width="24.90" height="6.74" fill="#e11c2b"/>
<rect x="244.60" y="336.18" width="24.10" height="6.74" fill="#cd1a28"/>
<rect x="220.70" y="341.92" width="24.90" height="6.74" fill="#a51722"/>
<rect x="244.60" y="341.92" width="24.10" height="6.74" fill="#7d141c"/>
<rect x="220.70" y="347.66" width="24.90" height="6.74" fill="#460f14"/>
<rect x="244.60" y="347.66" width="24.10" height="6.74" fill="#460f14"/>
<rect x="220.70" y="353.40" width="24.90" height="6.74" fill="#5f1118"/>
<rect x="244.60" y="353.40" width="24.10" height="6.74" fill="#14191a"/>
<rect x="220.70" y="359.14" width="24.90" height="5.74" fill="#641219"/>
<rect x="244.60" y="359.14" width="24.10" height="5.74" fill="#961620"/>
<text x="297.70" y="271.94" font-size="5.15" stroke="#111" stroke-width="0.16" transform="rotate(0.03 297.70 271.94)">KIAA1384</text>
<text x="297.70" y="277.72" font-size="5.15" stroke="#111" stroke-width="0.16" transform="rotate(0.03 297.70 277.72)">MAPRE2</text>
<text x="297.70" y="283.49" font-size="5.15" textLength="40.10" lengthAdjust="spacing" fill="#d0427a" stroke="#d0427a" stroke-width="0.12" transform="rotate(0.03 297.70 283.49)">P15RS (<tspan font-style="italic">P</tspan> = .007)</text>
<text x="297.70" y="289.27" font-size="5.15" stroke="#111" stroke-width="0.16" transform="rotate(0.03 297.70 289.27)">PIK3C3</text>
<text x="297.70" y="295.04" font-size="5.15" stroke="#111" stroke-width="0.16" transform="rotate(0.03 297.70 295.04)">MIZ1</text>
<text x="297.70" y="300.82" font-size="5.15" textLength="40.90" lengthAdjust="spacing" fill="#d0427a" stroke="#d0427a" stroke-width="0.12" transform="rotate(0.03 297.70 300.82)">MADH2 (<tspan font-style="italic">P</tspan> = .005)</text>
<text x="297.70" y="306.59" font-size="5.15" stroke="#111" stroke-width="0.16" transform="rotate(0.03 297.70 306.59)">ME2</text>
<text x="297.70" y="312.37" font-size="5.15" stroke="#111" stroke-width="0.16" transform="rotate(0.03 297.70 312.37)">ELAC1</text>
<text x="297.70" y="318.14" font-size="5.15" textLength="40.90" lengthAdjust="spacing" fill="#d0427a" stroke="#d0427a" stroke-width="0.12" transform="rotate(0.03 297.70 318.14)">MADH4 (<tspan font-style="italic">P</tspan>&lt; .001)</text>
<text x="297.70" y="323.92" font-size="5.15" textLength="47.20" lengthAdjust="spacing" fill="#d0427a" stroke="#d0427a" stroke-width="0.12" transform="rotate(0.03 297.70 323.92)">LOC51320 (<tspan font-style="italic">P</tspan>&lt; .001)</text>
<text x="297.70" y="329.69" font-size="5.15" stroke="#111" stroke-width="0.16" transform="rotate(0.03 297.70 329.69)">POLI</text>
<text x="297.70" y="335.47" font-size="5.15" stroke="#111" stroke-width="0.16" transform="rotate(0.03 297.70 335.47)">MALT1</text>
<text x="297.70" y="341.24" font-size="5.15" textLength="41.80" lengthAdjust="spacing" fill="#d0427a" stroke="#d0427a" stroke-width="0.12" transform="rotate(0.03 297.70 341.24)">PMAIP1 (<tspan font-style="italic">P</tspan>&lt; .001)</text>
<text x="297.70" y="347.02" font-size="5.15" stroke="#111" stroke-width="0.16" transform="rotate(0.03 297.70 347.02)">BCL2</text>
<text x="297.70" y="352.79" font-size="5.15" stroke="#111" stroke-width="0.16" transform="rotate(0.03 297.70 352.79)">FVT1</text>
<text x="297.70" y="358.57" font-size="5.15" stroke="#111" stroke-width="0.16" transform="rotate(0.03 297.70 358.57)">CYB5</text>
<text x="297.70" y="364.34" font-size="5.15" stroke="#111" stroke-width="0.16" transform="rotate(0.03 297.70 364.34)">NFATC1</text>
<text x="255.00" y="245.10" font-size="7.80" text-anchor="middle" stroke="#111" stroke-width="0.4" transform="rotate(0.03 255.00 245.10)">18q (GCB DLBCL)</text>
<rect x="218.20" y="249.05" width="72.30" height="1.70" fill="#000"/>
<text x="231.70" y="258.00" font-size="6.90" text-anchor="middle" stroke="#111" stroke-width="0.25" transform="rotate(0.03 231.70 258.00)">Amp</text>
<text x="231.70" y="264.50" font-size="5.00" text-anchor="middle" stroke="#111" stroke-width="0.25" transform="rotate(0.03 231.70 264.50)">(n=4)</text>
<text x="255.80" y="258.00" font-size="6.90" text-anchor="middle" stroke="#111" stroke-width="0.25" transform="rotate(0.03 255.80 258.00)">Gain</text>
<text x="255.80" y="264.50" font-size="5.00" text-anchor="middle" stroke="#111" stroke-width="0.25" transform="rotate(0.03 255.80 264.50)">(n=5)</text>
<text x="280.80" y="258.00" font-size="6.90" text-anchor="middle" stroke="#111" stroke-width="0.25" transform="rotate(0.03 280.80 258.00)">No Gain</text>
<text x="280.80" y="264.50" font-size="5.00" text-anchor="middle" stroke="#111" stroke-width="0.25" transform="rotate(0.03 280.80 264.50)">(n=78)</text>
<rect x="214.60" y="290.40" width="3.90" height="68.90" fill="#000"/>
<text x="199.60" y="290.84" font-size="5.70" text-anchor="middle" stroke="#111" stroke-width="0.2" transform="rotate(0.03 199.60 290.84)">18q12</text>
<text x="199.60" y="317.64" font-size="5.70" text-anchor="middle" stroke="#111" stroke-width="0.2" transform="rotate(0.03 199.60 317.64)">18q21</text>
<text x="201.00" y="353.64" font-size="5.70" text-anchor="middle" stroke="#111" stroke-width="0.2" transform="rotate(0.03 201.00 353.64)">18q23</text>
<text font-size="16.60" font-weight="bold" stroke="#111" stroke-width="0.5" transform="translate(192.60 253.20) rotate(0.03) scale(1.02 1)">D</text>
<rect x="218.50" y="411.50" width="72.50" height="97.16" fill="#0c0b0b"/>
<rect x="218.50" y="411.50" width="25.20" height="6.71" fill="#0e0a0b"/>
<rect x="242.70" y="411.50" width="24.00" height="6.71" fill="#140b0d"/>
<rect x="218.50" y="417.21" width="25.20" height="6.71" fill="#460f14"/>
<rect x="242.70" y="417.21" width="24.00" height="6.71" fill="#be1926"/>
<rect x="218.50" y="422.93" width="25.20" height="6.71" fill="#4b1015"/>
<rect x="242.70" y="422.93" width="24.00" height="6.71" fill="#af1824"/>
<rect x="218.50" y="428.64" width="25.20" height="6.71" fill="#190c0d"/>
<rect x="242.70" y="428.64" width="24.00" height="6.71" fill="#551016"/>
<rect x="218.50" y="434.36" width="25.20" height="6.71" fill="#501016"/>
<rect x="242.70" y="434.36" width="24.00" height="6.71" fill="#d71b2a"/>
<rect x="218.50" y="440.07" width="25.20" height="6.71" fill="#7d141c"/>
<rect x="242.70" y="440.07" width="24.00" height="6.71" fill="#af1824"/>
<rect x="218.50" y="445.79" width="25.20" height="6.71" fill="#b41825"/>
<rect x="242.70" y="445.79" width="24.00" height="6.71" fill="#c81a28"/>
<rect x="218.50" y="451.50" width="25.20" height="6.71" fill="#0e0a0b"/>
<rect x="242.70" y="451.50" width="24.00" height="6.71" fill="#0f0b0c"/>
<rect x="218.50" y="457.22" width="25.20" height="6.71" fill="#691219"/>
<rect x="242.70" y="457.22" width="24.00" height="6.71" fill="#961620"/>
<rect x="218.50" y="462.94" width="25.20" height="6.71" fill="#7d141c"/>
<rect x="242.70" y="462.94" width="24.00" height="6.71" fill="#e81c2c"/>
<rect x="218.50" y="468.65" width="25.20" height="6.71" fill="#0e0a0b"/>
<rect x="242.70" y="468.65" width="24.00" height="6.71" fill="#0e0a0b"/>
<rect x="218.50" y="474.37" width="25.20" height="6.71" fill="#e11c2b"/>
<rect x="242.70" y="474.37" width="24.00" height="6.71" fill="#460f14"/>
<rect x="218.50" y="480.08" width="25.20" height="6.71" fill="#8c151f"/>
<rect x="242.70" y="480.08" width="24.00" height="6.71" fill="#dc1b2b"/>
<rect x="218.50" y="485.80" width="25.20" height="6.71" fill="#dc1b2b"/>
<rect x="242.70" y="485.80" width="24.00" height="6.71" fill="#dc1b2b"/>
<rect x="218.50" y="491.51" width="25.20" height="6.71" fill="#551016"/>
<rect x="242.70" y="491.51" width="24.00" height="6.71" fill="#641219"/>
<rect x="218.50" y="497.23" width="25.20" height="6.71" fill="#0e0a0b"/>
<rect x="242.70" y="497.23" width="24.00" height="6.71" fill="#105536"/>
<rect x="218.50" y="502.94" width="25.20" height="5.71" fill="#dc1b2b"/>
<rect x="242.70" y="502.94" width="24.00" height="5.71" fill="#a01622"/>
<text x="296.10" y="415.54" font-size="5.15" stroke="#111" stroke-width="0.16" transform="rotate(0.03 296.10 415.54)">KIAA1384</text>
<text x="296.10" y="421.34" font-size="5.15" textLength="43.20" lengthAdjust="spacing" fill="#d0427a" stroke="#d0427a" stroke-width="0.12" transform="rotate(0.03 296.10 421.34)">MAPRE2 (<tspan font-style="italic">P</tspan>&lt; .001)</text>
<text x="296.10" y="427.14" font-size="5.15" stroke="#111" stroke-width="0.16" transform="rotate(0.03 296.10 427.14)">P15RS</text>
<text x="296.10" y="432.94" font-size="5.15" stroke="#111" stroke-width="0.16" transform="rotate(0.03 296.10 432.94)">PIK3C3</text>
<text x="296.10" y="438.74" font-size="5.15" textLength="34.00" lengthAdjust="spacing" fill="#d0427a" stroke="#d0427a" stroke-width="0.12" transform="rotate(0.03 296.10 438.74)">MIZ1 (<tspan font-style="italic">P</tspan> = .002)</text>
<text x="296.10" y="444.54" font-size="5.15" textLength="40.50" lengthAdjust="spacing" fill="#d0427a" stroke="#d0427a" stroke-width="0.12" transform="rotate(0.03 296.10 444.54)">MADH2 (<tspan font-style="italic">P</tspan>&lt; .001)</text>
<text x="296.10" y="450.34" font-size="5.15" textLength="32.70" lengthAdjust="spacing" fill="#d0427a" stroke="#d0427a" stroke-width="0.12" transform="rotate(0.03 296.10 450.34)">ME2 (<tspan font-style="italic">P</tspan>&lt; .001)</text>
<text x="296.10" y="456.14" font-size="5.15" stroke="#111" stroke-width="0.16" transform="rotate(0.03 296.10 456.14)">ELAC1</text>
<text x="296.10" y="461.94" font-size="5.15" textLength="40.50" lengthAdjust="spacing" fill="#d0427a" stroke="#d0427a" stroke-width="0.12" transform="rotate(0.03 296.10 461.94)">MADH4 (<tspan font-style="italic">P</tspan>= .001)</text>
<text x="296.10" y="467.74" font-size="5.15" textLength="46.80" lengthAdjust="spacing" fill="#d0427a" stroke="#d0427a" stroke-width="0.12" transform="rotate(0.03 296.10 467.74)">LOC51320 (<tspan font-style="italic">P</tspan>&lt; .001)</text>
<text x="296.10" y="473.54" font-size="5.15" stroke="#111" stroke-width="0.16" transform="rotate(0.03 296.10 473.54)">POLI</text>
<text x="296.10" y="479.34" font-size="5.15" textLength="38.10" lengthAdjust="spacing" fill="#d0427a" stroke="#d0427a" stroke-width="0.12" transform="rotate(0.03 296.10 479.34)">MALT1 (<tspan font-style="italic">P</tspan>&lt; .001)</text>
<text x="296.10" y="485.14" font-size="5.15" textLength="41.40" lengthAdjust="spacing" fill="#d0427a" stroke="#d0427a" stroke-width="0.12" transform="rotate(0.03 296.10 485.14)">PMAIP1 (<tspan font-style="italic">P</tspan> = .004)</text>
<text x="296.10" y="490.94" font-size="5.15" textLength="35.40" lengthAdjust="spacing" fill="#d0427a" stroke="#d0427a" stroke-width="0.12" transform="rotate(0.03 296.10 490.94)">BCL2 (<tspan font-style="italic">P</tspan>&lt; .001)</text>
<text x="296.10" y="496.74" font-size="5.15" textLength="34.70" lengthAdjust="spacing" fill="#d0427a" stroke="#d0427a" stroke-width="0.12" transform="rotate(0.03 296.10 496.74)">FVT1 (<tspan font-style="italic">P</tspan> = .005)</text>
<text x="296.10" y="502.54" font-size="5.15" stroke="#111" stroke-width="0.16" transform="rotate(0.03 296.10 502.54)">CYB5</text>
<text x="296.10" y="508.34" font-size="5.15" textLength="41.80" lengthAdjust="spacing" fill="#d0427a" stroke="#d0427a" stroke-width="0.12" transform="rotate(0.03 296.10 508.34)">NFATC1 (<tspan font-style="italic">P</tspan> = .003)</text>
<text x="254.10" y="390.00" font-size="7.80" text-anchor="middle" stroke="#111" stroke-width="0.4" transform="rotate(0.03 254.10 390.00)">18q (ABC DLBCL)</text>
<rect x="218.20" y="393.35" width="72.30" height="1.70" fill="#000"/>
<text x="230.60" y="402.30" font-size="6.90" text-anchor="middle" stroke="#111" stroke-width="0.25" transform="rotate(0.03 230.60 402.30)">Amp</text>
<text x="230.60" y="408.80" font-size="5.00" text-anchor="middle" stroke="#111" stroke-width="0.25" transform="rotate(0.03 230.60 408.80)">(n=13)</text>
<text x="253.80" y="402.30" font-size="6.90" text-anchor="middle" stroke="#111" stroke-width="0.25" transform="rotate(0.03 253.80 402.30)">Gain</text>
<text x="253.80" y="408.80" font-size="5.00" text-anchor="middle" stroke="#111" stroke-width="0.25" transform="rotate(0.03 253.80 408.80)">(n=12)</text>
<text x="279.20" y="402.30" font-size="6.90" text-anchor="middle" stroke="#111" stroke-width="0.25" transform="rotate(0.03 279.20 402.30)">No Gain</text>
<text x="279.20" y="408.80" font-size="5.00" text-anchor="middle" stroke="#111" stroke-width="0.25" transform="rotate(0.03 279.20 408.80)">(n=50)</text>
<rect x="212.40" y="433.70" width="3.80" height="68.80" fill="#000"/>
<text x="198.00" y="434.04" font-size="5.70" text-anchor="middle" stroke="#111" stroke-width="0.2" transform="rotate(0.03 198.00 434.04)">18q12</text>
<text x="198.00" y="463.44" font-size="5.70" text-anchor="middle" stroke="#111" stroke-width="0.2" transform="rotate(0.03 198.00 463.44)">18q21</text>
<text x="198.60" y="498.24" font-size="5.70" text-anchor="middle" stroke="#111" stroke-width="0.2" transform="rotate(0.03 198.60 498.24)">18q22</text>
<text x="198.60" y="508.74" font-size="5.70" text-anchor="middle" stroke="#111" stroke-width="0.2" transform="rotate(0.03 198.60 508.74)">18q23</text>
<text font-size="16.60" font-weight="bold" stroke="#111" stroke-width="0.5" transform="translate(189.90 396.00) rotate(0.03) scale(1.02 1)">E</text>
<rect x="392.20" y="30.30" width="74.10" height="361.87" fill="#1e1c1c"/>
<rect x="392.20" y="30.30" width="25.80" height="6.74" fill="#e41c2c"/>
<rect x="417.00" y="30.30" width="25.30" height="6.74" fill="#e01b2b"/>
<rect x="392.20" y="36.04" width="25.80" height="6.74" fill="#e01b2b"/>
<rect x="417.00" y="36.04" width="25.30" height="6.74" fill="#6e1b1b"/>
<rect x="392.20" y="41.79" width="25.80" height="6.74" fill="#d41b29"/>
<rect x="417.00" y="41.79" width="25.30" height="6.74" fill="#5a1b1b"/>
<rect x="392.20" y="47.53" width="25.80" height="6.74" fill="#961b20"/>
<rect x="417.00" y="47.53" width="25.30" height="6.74" fill="#af1b24"/>
<rect x="392.20" y="53.28" width="25.80" height="6.74" fill="#1ea048"/>
<rect x="417.00" y="53.28" width="25.30" height="6.74" fill="#821b1d"/>
<rect x="392.20" y="59.02" width="25.80" height="6.74" fill="#3c1b1b"/>
<rect x="417.00" y="59.02" width="25.30" height="6.74" fill="#e41c2c"/>
<rect x="392.20" y="64.76" width="25.80" height="6.74" fill="#e41c2c"/>
<rect x="417.00" y="64.76" width="25.30" height="6.74" fill="#e41c2c"/>
<rect x="392.20" y="70.51" width="25.80" height="6.74" fill="#e01b2b"/>
<rect x="417.00" y="70.51" width="25.30" height="6.74" fill="#701b1b"/>
<rect x="392.20" y="76.25" width="25.80" height="6.74" fill="#1e9645"/>
<rect x="417.00" y="76.25" width="25.30" height="6.74" fill="#1e1b1b"/>
<rect x="392.20" y="82.00" width="25.80" height="6.74" fill="#e41c2c"/>
<rect x="417.00" y="82.00" width="25.30" height="6.74" fill="#281b1b"/>
<rect x="392.20" y="87.74" width="25.80" height="6.74" fill="#e61c2c"/>
<rect x="417.00" y="87.74" width="25.30" height="6.74" fill="#1e1b1b"/>
<rect x="392.20" y="93.48" width="25.80" height="6.74" fill="#e41c2c"/>
<rect x="417.00" y="93.48" width="25.30" height="6.74" fill="#bc1b26"/>
<rect x="392.20" y="99.23" width="25.80" height="6.74" fill="#8c1b1f"/>
<rect x="417.00" y="99.23" width="25.30" height="6.74" fill="#7a1b1c"/>
<rect x="392.20" y="104.97" width="25.80" height="6.74" fill="#1e7839"/>
<rect x="417.00" y="104.97" width="25.30" height="6.74" fill="#321b1b"/>
<rect x="392.20" y="110.72" width="25.80" height="6.74" fill="#e23424"/>
<rect x="417.00" y="110.72" width="25.30" height="6.74" fill="#1e552c"/>
<rect x="392.20" y="116.46" width="25.80" height="6.74" fill="#461b1b"/>
<rect x="417.00" y="116.46" width="25.30" height="6.74" fill="#6e1b1b"/>
<rect x="392.20" y="122.20" width="25.80" height="6.74" fill="#ca1b28"/>
<rect x="417.00" y="122.20" width="25.30" height="6.74" fill="#1e502a"/>
<rect x="392.20" y="127.95" width="25.80" height="6.74" fill="#e23424"/>
<rect x="417.00" y="127.95" width="25.30" height="6.74" fill="#1e502a"/>
<rect x="392.20" y="133.69" width="25.80" height="6.74" fill="#1e261b"/>
<rect x="417.00" y="133.69" width="25.30" height="6.74" fill="#1e4827"/>
<rect x="392.20" y="139.44" width="25.80" height="6.74" fill="#1e9645"/>
<rect x="417.00" y="139.44" width="25.30" height="6.74" fill="#1e9243"/>
<rect x="392.20" y="145.18" width="25.80" height="6.74" fill="#1e1c1b"/>
<rect x="417.00" y="145.18" width="25.30" height="6.74" fill="#321b1b"/>
<rect x="392.20" y="150.92" width="25.80" height="6.74" fill="#e41c2c"/>
<rect x="417.00" y="150.92" width="25.30" height="6.74" fill="#ac1b23"/>
<rect x="392.20" y="156.67" width="25.80" height="6.74" fill="#e61c2c"/>
<rect x="417.00" y="156.67" width="25.30" height="6.74" fill="#281b1b"/>
<rect x="392.20" y="162.41" width="25.80" height="6.74" fill="#1e9645"/>
<rect x="417.00" y="162.41" width="25.30" height="6.74" fill="#1e1e1b"/>
<rect x="392.20" y="168.16" width="25.80" height="6.74" fill="#e41c2c"/>
<rect x="417.00" y="168.16" width="25.30" height="6.74" fill="#281b1b"/>
<rect x="392.20" y="173.90" width="25.80" height="6.74" fill="#1e9645"/>
<rect x="417.00" y="173.90" width="25.30" height="6.74" fill="#1e883f"/>
<rect x="392.20" y="179.64" width="25.80" height="6.74" fill="#1e4827"/>
<rect x="417.00" y="179.64" width="25.30" height="6.74" fill="#301b1b"/>
<rect x="392.20" y="185.39" width="25.80" height="6.74" fill="#1e9645"/>
<rect x="417.00" y="185.39" width="25.30" height="6.74" fill="#c01b26"/>
<rect x="392.20" y="191.13" width="25.80" height="6.74" fill="#ba1b25"/>
<rect x="417.00" y="191.13" width="25.30" height="6.74" fill="#a81b23"/>
<rect x="392.20" y="196.88" width="25.80" height="6.74" fill="#bc1b26"/>
<rect x="417.00" y="196.88" width="25.30" height="6.74" fill="#281b1b"/>
<rect x="392.20" y="202.62" width="25.80" height="6.74" fill="#911b1f"/>
<rect x="417.00" y="202.62" width="25.30" height="6.74" fill="#3c1b1b"/>
<rect x="392.20" y="208.36" width="25.80" height="6.74" fill="#1e1b1b"/>
<rect x="417.00" y="208.36" width="25.30" height="6.74" fill="#be1b26"/>
<rect x="392.20" y="214.11" width="25.80" height="6.74" fill="#e23424"/>
<rect x="417.00" y="214.11" width="25.30" height="6.74" fill="#461b1b"/>
<rect x="392.20" y="219.85" width="25.80" height="6.74" fill="#1e562c"/>
<rect x="417.00" y="219.85" width="25.30" height="6.74" fill="#371b1b"/>
<rect x="392.20" y="225.60" width="25.80" height="6.74" fill="#e61c2c"/>
<rect x="417.00" y="225.60" width="25.30" height="6.74" fill="#581b1b"/>
<rect x="392.20" y="231.34" width="25.80" height="6.74" fill="#e31c2c"/>
<rect x="417.00" y="231.34" width="25.30" height="6.74" fill="#321b1b"/>
<rect x="392.20" y="237.08" width="25.80" height="6.74" fill="#e31c2c"/>
<rect x="417.00" y="237.08" width="25.30" height="6.74" fill="#b01b24"/>
<rect x="392.20" y="242.83" width="25.80" height="6.74" fill="#1e8e41"/>
<rect x="417.00" y="242.83" width="25.30" height="6.74" fill="#821b1d"/>
<rect x="392.20" y="248.57" width="25.80" height="6.74" fill="#1e5c2e"/>
<rect x="417.00" y="248.57" width="25.30" height="6.74" fill="#a01b22"/>
<rect x="392.20" y="254.32" width="25.80" height="6.74" fill="#d81b2a"/>
<rect x="417.00" y="254.32" width="25.30" height="6.74" fill="#821b1d"/>
<rect x="392.20" y="260.06" width="25.80" height="6.74" fill="#e31c2c"/>
<rect x="417.00" y="260.06" width="25.30" height="6.74" fill="#8c1b1f"/>
<rect x="392.20" y="265.80" width="25.80" height="6.74" fill="#1e6432"/>
<rect x="417.00" y="265.80" width="25.30" height="6.74" fill="#ca1b28"/>
<rect x="392.20" y="271.55" width="25.80" height="6.74" fill="#e31c2c"/>
<rect x="417.00" y="271.55" width="25.30" height="6.74" fill="#1e1b1b"/>
<rect x="392.20" y="277.29" width="25.80" height="6.74" fill="#e31c2c"/>
<rect x="417.00" y="277.29" width="25.30" height="6.74" fill="#d41b29"/>
<rect x="392.20" y="283.04" width="25.80" height="6.74" fill="#e31c2c"/>
<rect x="417.00" y="283.04" width="25.30" height="6.74" fill="#701b1b"/>
<rect x="392.20" y="288.78" width="25.80" height="6.74" fill="#e31c2c"/>
<rect x="417.00" y="288.78" width="25.30" height="6.74" fill="#b61b25"/>
<rect x="392.20" y="294.52" width="25.80" height="6.74" fill="#d91b2a"/>
<rect x="417.00" y="294.52" width="25.30" height="6.74" fill="#8c1b1f"/>
<rect x="392.20" y="300.27" width="25.80" height="6.74" fill="#e31c2c"/>
<rect x="417.00" y="300.27" width="25.30" height="6.74" fill="#be1b26"/>
<rect x="392.20" y="306.01" width="25.80" height="6.74" fill="#e31c2c"/>
<rect x="417.00" y="306.01" width="25.30" height="6.74" fill="#aa1b23"/>
<rect x="392.20" y="311.76" width="25.80" height="6.74" fill="#1e1b1b"/>
<rect x="417.00" y="311.76" width="25.30" height="6.74" fill="#8c1b1f"/>
<rect x="392.20" y="317.50" width="25.80" height="6.74" fill="#e31c2c"/>
<rect x="417.00" y="317.50" width="25.30" height="6.74" fill="#ca1b28"/>
<rect x="392.20" y="323.24" width="25.80" height="6.74" fill="#e31c2c"/>
<rect x="417.00" y="323.24" width="25.30" height="6.74" fill="#cf1b29"/>
<rect x="392.20" y="328.99" width="25.80" height="6.74" fill="#1e9645"/>
<rect x="417.00" y="328.99" width="25.30" height="6.74" fill="#c31b27"/>
<rect x="392.20" y="334.73" width="25.80" height="6.74" fill="#b41b25"/>
<rect x="417.00" y="334.73" width="25.30" height="6.74" fill="#d81b2a"/>
<rect x="392.20" y="340.48" width="25.80" height="6.74" fill="#1e9645"/>
<rect x="417.00" y="340.48" width="25.30" height="6.74" fill="#c41b27"/>
<rect x="392.20" y="346.22" width="25.80" height="6.74" fill="#1e9645"/>
<rect x="417.00" y="346.22" width="25.30" height="6.74" fill="#e41c2c"/>
<rect x="392.20" y="351.96" width="25.80" height="6.74" fill="#1e9243"/>
<rect x="417.00" y="351.96" width="25.30" height="6.74" fill="#c41b27"/>
<rect x="392.20" y="357.71" width="25.80" height="6.74" fill="#6e1b1b"/>
<rect x="417.00" y="357.71" width="25.30" height="6.74" fill="#c81b28"/>
<rect x="392.20" y="363.45" width="25.80" height="6.74" fill="#731b1b"/>
<rect x="417.00" y="363.45" width="25.30" height="6.74" fill="#e61c2c"/>
<rect x="392.20" y="369.20" width="25.80" height="6.74" fill="#1e5a2e"/>
<rect x="417.00" y="369.20" width="25.30" height="6.74" fill="#641b1b"/>
<rect x="392.20" y="374.94" width="25.80" height="6.74" fill="#1e1b1b"/>
<rect x="417.00" y="374.94" width="25.30" height="6.74" fill="#5a1b1b"/>
<rect x="392.20" y="380.68" width="25.80" height="6.74" fill="#aa1b23"/>
<rect x="417.00" y="380.68" width="25.30" height="6.74" fill="#be1b26"/>
<rect x="392.20" y="386.43" width="25.80" height="5.74" fill="#641b1b"/>
<rect x="417.00" y="386.43" width="25.30" height="5.74" fill="#c81b28"/>
<text x="470.50" y="33.94" font-size="5.15" textLength="41.50" lengthAdjust="spacing" fill="#d0427a" stroke="#d0427a" stroke-width="0.12" transform="rotate(0.03 470.50 33.94)">PPHLN1 (<tspan font-style="italic">P</tspan>&lt; .001)</text>
<text x="470.50" y="39.71" font-size="5.15" stroke="#111" stroke-width="0.16" transform="rotate(0.03 470.50 39.71)">PTK9</text>
<text x="470.50" y="45.47" font-size="5.15" stroke="#111" stroke-width="0.16" transform="rotate(0.03 470.50 45.47)">SLC38A1</text>
<text x="470.50" y="51.23" font-size="5.15" stroke="#111" stroke-width="0.16" transform="rotate(0.03 470.50 51.23)">SLC38A2</text>
<text x="470.50" y="57.00" font-size="5.15" stroke="#111" stroke-width="0.16" transform="rotate(0.03 470.50 57.00)">MGC16044</text>
<text x="470.50" y="62.76" font-size="5.15" stroke="#111" stroke-width="0.16" transform="rotate(0.03 470.50 62.76)">HDAC7A</text>
<text x="470.50" y="68.52" font-size="5.15" textLength="36.10" lengthAdjust="spacing" fill="#d0427a" stroke="#d0427a" stroke-width="0.12" transform="rotate(0.03 470.50 68.52)">SENP1 (<tspan font-style="italic">P</tspan>&lt; .001)</text>
<text x="470.50" y="74.28" font-size="5.15" stroke="#111" stroke-width="0.16" transform="rotate(0.03 470.50 74.28)">LOC14443</text>
<text x="470.50" y="80.05" font-size="5.15" stroke="#111" stroke-width="0.16" transform="rotate(0.03 470.50 80.05)">FKBP11</text>
<text x="470.50" y="85.81" font-size="5.15" stroke="#111" stroke-width="0.16" transform="rotate(0.03 470.50 85.81)">PRKAG1</text>
<text x="470.50" y="91.57" font-size="5.15" stroke="#111" stroke-width="0.16" transform="rotate(0.03 470.50 91.57)">K-ALPHA</text>
<text x="470.50" y="97.34" font-size="5.15" textLength="40.70" lengthAdjust="spacing" fill="#d0427a" stroke="#d0427a" stroke-width="0.12" transform="rotate(0.03 470.50 97.34)">MCRS1 (<tspan font-style="italic">P</tspan>&lt; .001)</text>
<text x="470.50" y="103.10" font-size="5.15" stroke="#111" stroke-width="0.16" transform="rotate(0.03 470.50 103.10)">TEGT</text>
<text x="470.50" y="108.86" font-size="5.15" stroke="#111" stroke-width="0.16" transform="rotate(0.03 470.50 108.86)">MGC14288</text>
<text x="470.50" y="114.63" font-size="5.15" stroke="#111" stroke-width="0.16" transform="rotate(0.03 470.50 114.63)">LOC11325</text>
<text x="470.50" y="120.39" font-size="5.15" stroke="#111" stroke-width="0.16" transform="rotate(0.03 470.50 120.39)">ATF1</text>
<text x="470.50" y="126.15" font-size="5.15" stroke="#111" stroke-width="0.16" transform="rotate(0.03 470.50 126.15)">NR4A1</text>
<text x="470.50" y="131.91" font-size="5.15" stroke="#111" stroke-width="0.16" transform="rotate(0.03 470.50 131.91)">KRT18</text>
<text x="470.50" y="137.68" font-size="5.15" stroke="#111" stroke-width="0.16" transform="rotate(0.03 470.50 137.68)">CSAD</text>
<text x="470.50" y="143.44" font-size="5.15" stroke="#111" stroke-width="0.16" transform="rotate(0.03 470.50 143.44)">ITGB7</text>
<text x="470.50" y="149.20" font-size="5.15" stroke="#111" stroke-width="0.16" transform="rotate(0.03 470.50 149.20)">RARG</text>
<text x="470.50" y="154.97" font-size="5.15" stroke="#111" stroke-width="0.16" transform="rotate(0.03 470.50 154.97)">PFDN5</text>
<text x="470.50" y="160.73" font-size="5.15" stroke="#111" stroke-width="0.16" transform="rotate(0.03 470.50 160.73)">CBX5</text>
<text x="470.50" y="166.49" font-size="5.15" stroke="#111" stroke-width="0.16" transform="rotate(0.03 470.50 166.49)">ITGA5</text>
<text x="470.50" y="172.26" font-size="5.15" stroke="#111" stroke-width="0.16" transform="rotate(0.03 470.50 172.26)">PPP1R1A</text>
<text x="470.50" y="178.02" font-size="5.15" stroke="#111" stroke-width="0.16" transform="rotate(0.03 470.50 178.02)">CD63</text>
<text x="470.50" y="183.78" font-size="5.15" stroke="#111" stroke-width="0.16" transform="rotate(0.03 470.50 183.78)">DGKA</text>
<text x="470.50" y="189.54" font-size="5.15" stroke="#111" stroke-width="0.16" transform="rotate(0.03 470.50 189.54)">CDK2</text>
<text x="470.50" y="195.31" font-size="5.15" stroke="#111" stroke-width="0.16" transform="rotate(0.03 470.50 195.31)">RAB5B</text>
<text x="470.50" y="201.07" font-size="5.15" stroke="#111" stroke-width="0.16" transform="rotate(0.03 470.50 201.07)">PA2G4</text>
<text x="470.50" y="206.83" font-size="5.15" stroke="#111" stroke-width="0.16" transform="rotate(0.03 470.50 206.83)">MYL6</text>
<text x="470.50" y="212.60" font-size="5.15" stroke="#111" stroke-width="0.16" transform="rotate(0.03 470.50 212.60)">SMARCC2</text>
<text x="470.50" y="218.36" font-size="5.15" stroke="#111" stroke-width="0.16" transform="rotate(0.03 470.50 218.36)">CS</text>
<text x="470.50" y="224.12" font-size="5.15" stroke="#111" stroke-width="0.16" transform="rotate(0.03 470.50 224.12)">STAT2</text>
<text x="470.50" y="229.89" font-size="5.15" stroke="#111" stroke-width="0.16" transform="rotate(0.03 470.50 229.89)">ATP5B</text>
<text x="470.50" y="235.65" font-size="5.15" stroke="#111" stroke-width="0.16" transform="rotate(0.03 470.50 235.65)">TEPB</text>
<text x="470.50" y="241.41" font-size="5.15" textLength="45.40" lengthAdjust="spacing" fill="#d0427a" stroke="#d0427a" stroke-width="0.12" transform="rotate(0.03 470.50 241.41)">KIAA0286 (<tspan font-style="italic">P</tspan> = .006)</text>
<text x="470.50" y="247.17" font-size="5.15" stroke="#111" stroke-width="0.16" transform="rotate(0.03 470.50 247.17)">NAB2</text>
<text x="470.50" y="252.94" font-size="5.15" stroke="#111" stroke-width="0.16" transform="rotate(0.03 470.50 252.94)">STAT6</text>
<text x="470.50" y="258.70" font-size="5.15" stroke="#111" stroke-width="0.16" transform="rotate(0.03 470.50 258.70)">SHMT2</text>
<text x="470.50" y="264.46" font-size="5.15" textLength="36.90" lengthAdjust="spacing" fill="#d0427a" stroke="#d0427a" stroke-width="0.12" transform="rotate(0.03 470.50 264.46)">MARS (<tspan font-style="italic">P</tspan> = .009)</text>
<text x="470.50" y="270.23" font-size="5.15" textLength="36.90" lengthAdjust="spacing" fill="#d0427a" stroke="#d0427a" stroke-width="0.12" transform="rotate(0.03 470.50 270.23)">MBD6 (<tspan font-style="italic">P</tspan> = .008)</text>
<text x="470.50" y="275.99" font-size="5.15" stroke="#111" stroke-width="0.16" transform="rotate(0.03 470.50 275.99)">OS-9</text>
<text x="470.50" y="281.75" font-size="5.15" textLength="32.60" lengthAdjust="spacing" fill="#d0427a" stroke="#d0427a" stroke-width="0.12" transform="rotate(0.03 470.50 281.75)">SAS (<tspan font-style="italic">P</tspan>&lt; .001)</text>
<text x="470.50" y="287.52" font-size="5.15" textLength="35.70" lengthAdjust="spacing" fill="#d0427a" stroke="#d0427a" stroke-width="0.12" transform="rotate(0.03 470.50 287.52)">CDK4 (<tspan font-style="italic">P</tspan> = .003)</text>
<text x="470.50" y="293.28" font-size="5.15" stroke="#111" stroke-width="0.16" transform="rotate(0.03 470.50 293.28)">LOC92979</text>
<text x="470.50" y="299.04" font-size="5.15" stroke="#111" stroke-width="0.16" transform="rotate(0.03 470.50 299.04)">CGI-119</text>
<text x="470.50" y="304.80" font-size="5.15" textLength="39.20" lengthAdjust="spacing" fill="#d0427a" stroke="#d0427a" stroke-width="0.12" transform="rotate(0.03 470.50 304.80)">TIP120A (<tspan font-style="italic">P</tspan>= .01)</text>
<text x="470.50" y="310.57" font-size="5.15" stroke="#111" stroke-width="0.16" transform="rotate(0.03 470.50 310.57)">DYRK2</text>
<text x="470.50" y="316.33" font-size="5.15" stroke="#111" stroke-width="0.16" transform="rotate(0.03 470.50 316.33)">RAP1B</text>
<text x="470.50" y="322.09" font-size="5.15" stroke="#111" stroke-width="0.16" transform="rotate(0.03 470.50 322.09)">MDM2</text>
<text x="470.50" y="327.86" font-size="5.15" textLength="41.50" lengthAdjust="spacing" fill="#d0427a" stroke="#d0427a" stroke-width="0.12" transform="rotate(0.03 470.50 327.86)">FLJ10936 (<tspan font-style="italic">P</tspan>= .01)</text>
<text x="470.50" y="333.62" font-size="5.15" stroke="#111" stroke-width="0.16" transform="rotate(0.03 470.50 333.62)">GLIPR1</text>
<text x="470.50" y="339.38" font-size="5.15" stroke="#111" stroke-width="0.16" transform="rotate(0.03 470.50 339.38)">HRB2</text>
<text x="470.50" y="345.15" font-size="5.15" stroke="#111" stroke-width="0.16" transform="rotate(0.03 470.50 345.15)">OSBPL8</text>
<text x="470.50" y="350.91" font-size="5.15" textLength="47.40" lengthAdjust="spacing" fill="#d0427a" stroke="#d0427a" stroke-width="0.12" transform="rotate(0.03 470.50 350.91)">PPP1R12A (<tspan font-style="italic">P</tspan>= .001)</text>
<text x="470.50" y="356.67" font-size="5.15" stroke="#111" stroke-width="0.16" transform="rotate(0.03 470.50 356.67)">DUSP6</text>
<text x="470.50" y="362.43" font-size="5.15" stroke="#111" stroke-width="0.16" transform="rotate(0.03 470.50 362.43)">BTG1</text>
<text x="470.50" y="368.20" font-size="5.15" textLength="40.30" lengthAdjust="spacing" fill="#d0427a" stroke="#d0427a" stroke-width="0.12" transform="rotate(0.03 470.50 368.20)">CRADD (<tspan font-style="italic">P</tspan>= .004)</text>
<text x="470.50" y="373.96" font-size="5.15" stroke="#111" stroke-width="0.16" transform="rotate(0.03 470.50 373.96)">PCTK2</text>
<text x="470.50" y="379.72" font-size="5.15" stroke="#111" stroke-width="0.16" transform="rotate(0.03 470.50 379.72)">SLC25A3</text>
<text x="470.50" y="385.49" font-size="5.15" stroke="#111" stroke-width="0.16" transform="rotate(0.03 470.50 385.49)">TRA1</text>
<text x="470.50" y="391.25" font-size="5.15" stroke="#111" stroke-width="0.16" transform="rotate(0.03 470.50 391.25)">TDG</text>
<text x="429.20" y="7.40" font-size="7.80" text-anchor="middle" stroke="#111" stroke-width="0.4" transform="rotate(0.03 429.20 7.40)">12q (GCB DLBCL)</text>
<rect x="393.20" y="11.70" width="72.30" height="1.70" fill="#000"/>
<text x="404.80" y="21.20" font-size="6.90" text-anchor="middle" stroke="#111" stroke-width="0.25" transform="rotate(0.03 404.80 21.20)">Amp</text>
<text x="404.80" y="27.60" font-size="5.00" text-anchor="middle" stroke="#111" stroke-width="0.25" transform="rotate(0.03 404.80 27.60)">(n=3)</text>
<text x="429.80" y="21.20" font-size="6.90" text-anchor="middle" stroke="#111" stroke-width="0.25" transform="rotate(0.03 429.80 21.20)">Gain</text>
<text x="429.80" y="27.60" font-size="5.00" text-anchor="middle" stroke="#111" stroke-width="0.25" transform="rotate(0.03 429.80 27.60)">(n=14)</text>
<text x="454.80" y="21.20" font-size="6.90" text-anchor="middle" stroke="#111" stroke-width="0.25" transform="rotate(0.03 454.80 21.20)">No Gain</text>
<text x="454.80" y="27.60" font-size="5.00" text-anchor="middle" stroke="#111" stroke-width="0.25" transform="rotate(0.03 454.80 27.60)">(n=70)</text>
<rect x="384.80" y="30.60" width="3.80" height="297.90" fill="#000"/>
<text x="373.30" y="40.00" font-size="5.30" text-anchor="middle" stroke="#111" stroke-width="0.12" transform="rotate(0.03 373.30 40.00)">12q12</text>
<text x="373.80" y="173.00" font-size="5.30" text-anchor="middle" stroke="#111" stroke-width="0.12" transform="rotate(0.03 373.80 173.00)">12q13</text>
<text x="374.00" y="310.90" font-size="5.30" text-anchor="middle" stroke="#111" stroke-width="0.12" transform="rotate(0.03 374.00 310.90)">12q14</text>
<text x="374.00" y="328.50" font-size="5.30" text-anchor="middle" stroke="#111" stroke-width="0.12" transform="rotate(0.03 374.00 328.50)">12q15</text>
<text x="374.00" y="346.00" font-size="5.30" text-anchor="middle" stroke="#111" stroke-width="0.12" transform="rotate(0.03 374.00 346.00)">12q21</text>
<text x="374.00" y="368.40" font-size="5.30" text-anchor="middle" stroke="#111" stroke-width="0.12" transform="rotate(0.03 374.00 368.40)">12q23</text>
<text font-size="16.60" font-weight="bold" stroke="#111" stroke-width="0.5" transform="translate(363.40 13.50) rotate(0.03) scale(1.02 1)">F</text>
<text x="473.80" y="27.60" font-size="5.15" fill="#d0427a" font-style="italic" transform="rotate(0.03 473.80 27.60)">P</text>
<rect x="105.4" y="512.1" width="66.6" height="9.9" fill="url(#g1)"/>
<text x="105.10" y="507.60" font-size="7.40" text-anchor="middle" stroke="#111" stroke-width="0.25" transform="rotate(0.03 105.10 507.60)">0.5x</text>
<text x="136.20" y="507.60" font-size="7.40" text-anchor="middle" stroke="#111" stroke-width="0.25" transform="rotate(0.03 136.20 507.60)">1x</text>
<text x="170.60" y="507.60" font-size="7.40" text-anchor="middle" stroke="#111" stroke-width="0.25" transform="rotate(0.03 170.60 507.60)">2x</text>
<text x="142.40" y="535.00" font-size="10.20" text-anchor="middle" stroke="#111" stroke-width="0.3" transform="rotate(0.03 142.40 535.00)">Relative expression</text>
<rect x="397.6" y="422.2" width="67.0" height="10.6" fill="url(#g2)"/>
<text x="400.60" y="418.60" font-size="7.40" text-anchor="middle" stroke="#111" stroke-width="0.25" transform="rotate(0.03 400.60 418.60)">0.7x</text>
<text x="428.40" y="418.60" font-size="7.40" text-anchor="middle" stroke="#111" stroke-width="0.25" transform="rotate(0.03 428.40 418.60)">1x</text>
<text x="466.50" y="418.60" font-size="7.40" text-anchor="middle" stroke="#111" stroke-width="0.25" transform="rotate(0.03 466.50 418.60)">1.4x</text>
<text x="432.20" y="444.80" font-size="10.20" text-anchor="middle" stroke="#111" stroke-width="0.3" transform="rotate(0.03 432.20 444.80)">Relative expression</text>
</svg>
</body>
</html>
